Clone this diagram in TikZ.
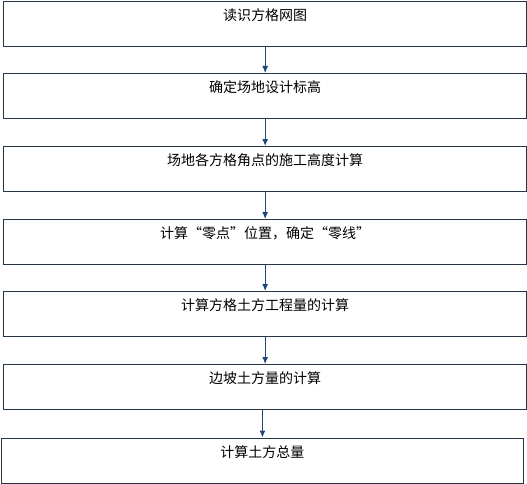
\documentclass[tikz,border=0pt]{standalone}
\usepackage{fontspec}
\setmainfont{Noto Sans CJK SC}
\usepackage{tikz}
\usetikzlibrary{positioning,arrows.meta}
\definecolor{boxline}{RGB}{38,52,68}
\definecolor{arrowblue}{RGB}{31,70,120}
\tikzset{
  stepbox/.style={draw=boxline,line width=1pt,fill=white,anchor=north west,
    minimum width=522.7pt,inner sep=0pt,text height=19pt,text depth=26pt,
    font=\fontsize{14pt}{16pt}\selectfont},
  flow/.style={draw=arrowblue,line width=1pt,-{Latex[length=7pt,width=6pt]}}
}
\begin{document}
\begin{tikzpicture}[x=1pt,y=-1pt]
\useasboundingbox (0,0) rectangle (527,484);
\foreach \n/\y/\t in {1/1/读识方格网图,2/73/确定场地设计标高,3/146/场地各方格角点的施工高度计算,
  4/219/计算“零点”位置，确定“零线”,5/291/计算方格土方工程量的计算,6/364/边坡土方量的计算}{
\node[stepbox] (b\n) at (3.3,\y) {\t};
}
\node[stepbox] (b7) at (0.6,437.5) {计算土方总量};
\foreach \i [count=\j from 2] in {1,...,5}{
\draw[flow] (b\i.south) -- (b\j.north);
}
\draw[flow] (b7.north |- b6.south) -- (b7.north);
\end{tikzpicture}
\end{document}
